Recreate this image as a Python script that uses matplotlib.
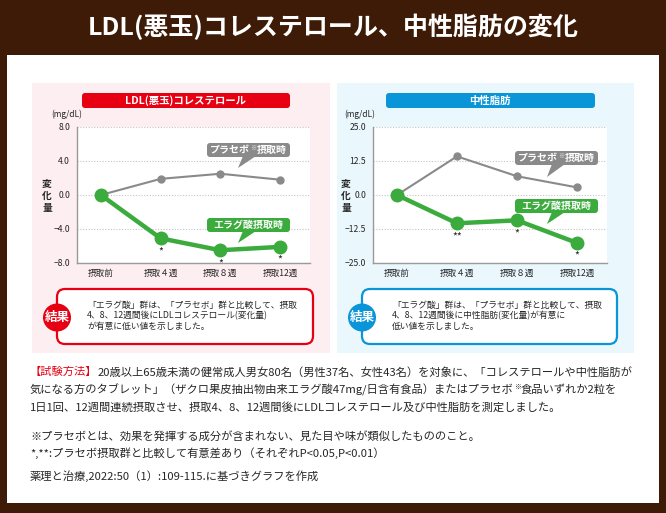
import matplotlib
matplotlib.use('Agg')
import matplotlib.pyplot as plt
from matplotlib.patches import FancyBboxPatch, Rectangle, Polygon, Circle

plt.rcParams['font.family'] = ['Noto Sans CJK JP', 'DejaVu Sans']

W, H = 666, 513

# data
weeks = ['摂取前', '摂取４週', '摂取８週', '摂取12週']
ldl_placebo = [0.0, 1.9, 2.5, 1.8]
ldl_ellagic = [0.0, -5.1, -6.5, -6.1]
ldl_sig = ['', '*', '*', '*']
ldl_ticks = [-8.0, -4.0, 0.0, 4.0, 8.0]
tg_placebo = [0.0, 14.2, 6.9, 2.8]
tg_ellagic = [0.0, -10.4, -9.3, -17.6]
tg_sig = ['', '**', '*', '*']
tg_ticks = [-25.0, -12.5, 0.0, 12.5, 25.0]

title = 'LDL(悪玉)コレステロール、中性脂肪の変化'
ldl_result = ['「エラグ酸」群は、「プラセボ」群と比較して、摂取',
              '4、8、12週間後にLDLコレステロール(変化量)',
              'が有意に低い値を示しました。']
tg_result = ['「エラグ酸」群は、「プラセボ」群と比較して、摂取',
             '4、8、12週間後に中性脂肪(変化量)が有意に',
             '低い値を示しました。']

BROWN = '#3d1b06'
RED = '#e60012'
BLUE = '#0a95d8'
GREEN = '#3aab3c'
GRAY = '#8a8a8a'
PINK = '#fdeef1'
ICE = '#eaf8fd'
TXT = '#262626'

fig = plt.figure(figsize=(W / 100, H / 100), dpi=100, facecolor=BROWN)
renderer = fig.canvas.get_renderer()


def overlay():
    ax = fig.add_axes([0, 0, 1, 1])
    ax.set_xlim(0, W)
    ax.set_ylim(H, 0)
    ax.axis('off')
    ax.patch.set_alpha(0)
    return ax


def px_axes(x0, y0, x1, y1):
    return fig.add_axes([x0 / W, 1 - y1 / H, (x1 - x0) / W, (y1 - y0) / H])


def rbox(ax, x0, y0, x1, y1, r, fc, ec='none', lw=0, z=1):
    ax.add_patch(FancyBboxPatch((x0, y0), x1 - x0, y1 - y0,
                                boxstyle=f'round,pad=0,rounding_size={r}',
                                fc=fc, ec=ec, lw=lw, zorder=z))


def runs(ax, x, y, pieces, center=False, z=5):
    # pieces: (text, size, color, weight, dy)
    made = []
    for s, size, color, weight, dy in pieces:
        t = ax.text(0, y + dy, s, fontsize=size, color=color, fontweight=weight,
                    va='center', ha='left', zorder=z)
        made.append(t)
    widths = [t.get_window_extent(renderer).width for t in made]
    if center:
        x = x - sum(widths) / 2
    for t, w in zip(made, widths):
        t.set_x(x)
        x += w
    return x


bg = overlay()
bg.add_patch(Rectangle((7, 55), 652, 448, fc='white', ec='none'))
bg.text(333, 27, title, fontsize=18, fontweight='bold', color='white',
        ha='center', va='center')

# panel backgrounds and headers
bg.add_patch(Rectangle((32, 83), 298, 270, fc=PINK, ec='none'))
bg.add_patch(Rectangle((337, 83), 297, 270, fc=ICE, ec='none'))
rbox(bg, 82, 93, 290, 108, 3, RED)
bg.text(186, 100.5, 'LDL(悪玉)コレステロール', fontsize=7.5, fontweight='bold',
        color='white', ha='center', va='center')
rbox(bg, 386, 93, 595, 108, 3, BLUE)
bg.text(490, 100.5, '中性脂肪', fontsize=7.5, fontweight='bold',
        color='white', ha='center', va='center')


def chart(x0, x1, placebo, ellagic, sig, ticks, unit_x, lab_x):
    ax = px_axes(x0, 127, x1, 263)
    ax.set_facecolor('white')
    xs = list(range(len(weeks)))
    ax.set_xlim(-0.4, 3.5)
    ax.set_ylim(ticks[0], ticks[-1])
    ax.set_yticks(ticks)
    ax.set_yticklabels([f'{v:.1f}'.replace('-', '−') for v in ticks])
    ax.set_xticks(xs)
    ax.set_xticklabels(weeks)
    ax.tick_params(length=0, labelsize=6.2, colors=TXT)
    ax.tick_params(axis='y', pad=5)
    ax.tick_params(axis='x', pad=4)
    ax.grid(axis='y', ls=(0, (1, 1.5)), color='#c4c4c4', lw=0.8)
    for side in ['top', 'right']:
        ax.spines[side].set_visible(False)
    for side in ['left', 'bottom']:
        ax.spines[side].set_color('#9a9a9a')
        ax.spines[side].set_linewidth(1.0)
    ax.plot(xs, placebo, color=GRAY, lw=1.5, marker='o', ms=5, zorder=3, clip_on=False)
    ax.plot(xs, ellagic, color=GREEN, lw=3.2, marker='o', ms=9, zorder=4, clip_on=False)
    for i, s in enumerate(sig):
        if s:
            ax.annotate(s, (i, ellagic[i]), xytext=(0, -11.5), textcoords='offset points',
                        ha='center', va='baseline', fontsize=7.5, color=TXT, zorder=6)
    bg.text(unit_x, 114, '(mg/dL)', fontsize=6, color=TXT, ha='center', va='center')
    for k, ch in enumerate('変化量'):
        bg.text(lab_x, 183 + 12.5 * k, ch, fontsize=7, fontweight='bold', color=TXT,
                ha='center', va='center')
    return ax


chart(77, 310, ldl_placebo, ldl_ellagic, ldl_sig, ldl_ticks, 67, 47)
chart(373, 607, tg_placebo, tg_ellagic, tg_sig, tg_ticks, 360, 346)

top = overlay()


def callout(x0, y0, x1, y1, tail, color, pieces):
    rbox(top, x0, y0, x1, y1, 3, color, z=3)
    top.add_patch(Polygon(tail, closed=True, fc=color, ec='none', zorder=3))
    runs(top, (x0 + x1) / 2, (y0 + y1) / 2, pieces, center=True)


placebo_label = [('プラセボ', 7.2, 'white', 'bold', 0),
                 ('※', 4.5, 'white', 'bold', -2.5),
                 ('摂取時', 7.2, 'white', 'bold', 0)]
ellagic_label = [('エラグ酸摂取時', 7.2, 'white', 'bold', 0)]

callout(207, 143, 290, 157, [(243, 156), (256, 156), (238, 168)], GRAY, placebo_label)
callout(207, 218, 290, 232, [(243, 231), (256, 231), (238, 243)], GREEN, ellagic_label)
callout(515, 151, 598, 165, [(552, 164), (565, 164), (547, 177)], GRAY, placebo_label)
callout(515, 199, 598, 213, [(552, 212), (565, 212), (547, 224)], GREEN, ellagic_label)

# result boxes
for bx0, bx1, color, lines in [(57, 313, RED, ldl_result), (362, 617, BLUE, tg_result)]:
    rbox(top, bx0, 289, bx1, 344, 8, 'white', ec=color, lw=1.6, z=2)
    top.add_patch(Circle((bx0, 317.5), 14, fc=color, ec='none', zorder=3))
    top.text(bx0, 317.5, '結果', fontsize=9, fontweight='bold', color='white',
             ha='center', va='center', zorder=4)
    for k, line in enumerate(lines):
        top.text(bx0 + 30, 305 + 11 * k, line, fontsize=6.3, color=TXT,
                 ha='left', va='center', zorder=4)

# method text and notes
body = 8.1
runs(top, 30, 372, [('【試験方法】', body, RED, 'normal', 0),
                    ('20歳以上65歳未満の健常成人男女80名（男性37名、女性43名）を対象に、「コレステロールや中性脂肪が',
                     body, TXT, 'normal', 0)])
runs(top, 30, 390, [('気になる方のタブレット」（ザクロ果皮抽出物由来エラグ酸47mg/日含有食品）またはプラセボ', body, TXT, 'normal', 0),
                    ('※', 5, TXT, 'normal', -3),
                    ('食品いずれか2粒を', body, TXT, 'normal', 0)])
runs(top, 30, 407, [('1日1回、12週間連続摂取させ、摂取4、8、12週間後にLDLコレステロール及び中性脂肪を測定しました。',
                     body, TXT, 'normal', 0)])
runs(top, 30, 436, [('※プラセボとは、効果を発揮する成分が含まれない、見た目や味が類似したもののこと。', body, TXT, 'normal', 0)])
runs(top, 30, 453, [('*,**:プラセボ摂取群と比較して有意差あり（それぞれP<0.05,P<0.01）', body, TXT, 'normal', 0)])
runs(top, 30, 476, [('薬理と治療,2022:50（1）:109-115.に基づきグラフを作成', body, TXT, 'normal', 0)])

fig.savefig('out.png', dpi=100, facecolor=BROWN)
